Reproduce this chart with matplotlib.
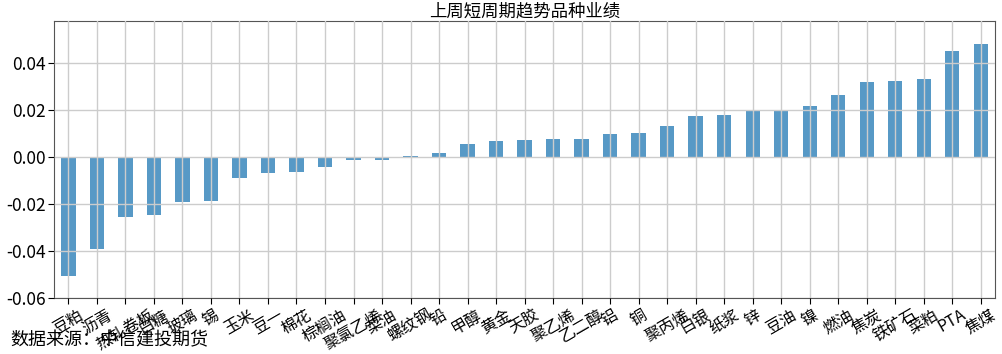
import matplotlib
matplotlib.use("Agg")
import numpy as np
import matplotlib.pyplot as plt

plt.rcParams['font.family'] = ['Noto Sans CJK SC', 'DejaVu Sans']
plt.rcParams['axes.unicode_minus'] = False

# 品种 & 上周收益
varieties = ["豆粕", "沥青", "热轧卷板", "白糖", "玻璃", "锡", "玉米", "豆一", "棉花", "棕榈油",
             "聚氯乙烯", "菜油", "螺纹钢", "铅", "甲醇", "黄金", "天胶", "聚乙烯", "乙二醇", "铝",
             "铜", "聚丙烯", "白银", "纸浆", "锌", "豆油", "镍", "燃油", "焦炭", "铁矿石",
             "菜粕", "PTA", "焦煤"]
returns = [-0.0505, -0.0390, -0.0257, -0.0248, -0.0193, -0.0187, -0.0088, -0.0068, -0.0062, -0.0044,
           -0.0012, -0.0012, 0.0004, 0.0017, 0.0055, 0.0069, 0.0071, 0.0078, 0.0078, 0.0098,
           0.0104, 0.0134, 0.0174, 0.0180, 0.0202, 0.0202, 0.0216, 0.0266, 0.0321, 0.0323,
           0.0334, 0.0450, 0.0480]
yticks = [-0.06, -0.04, -0.02, 0.00, 0.02, 0.04]

fig = plt.figure(figsize=(10.03, 3.54), dpi=100)
ax = fig.add_axes([0.054, 0.158, 0.938, 0.783])

x = np.arange(len(varieties))
ax.bar(x, returns, width=0.5, color="#1f77b4", alpha=0.75, zorder=2)
ax.grid(True, color="#cccccc", linewidth=1, zorder=3)
ax.set_axisbelow(False)

ax.set_xlim(-0.5, len(varieties) - 0.5)
ax.set_ylim(-0.06, 0.058)
ax.set_yticks(yticks)
ax.set_yticklabels([f"{v:.2f}" for v in yticks], fontsize=12.5)
ax.set_xticks(x)
ax.set_xticklabels(varieties, rotation=30, ha="center", fontsize=11.5)
ax.tick_params(axis="both", length=4, pad=2)
for sp in ax.spines.values():
    sp.set_color("#555555")

ax.set_title("上周短周期趋势品种业绩", fontsize=12.5, pad=2)
fig.text(0.01, 0.012, "数据来源：中信建投期货", fontsize=13, ha="left", va="bottom")

fig.savefig("out.png", dpi=100)
